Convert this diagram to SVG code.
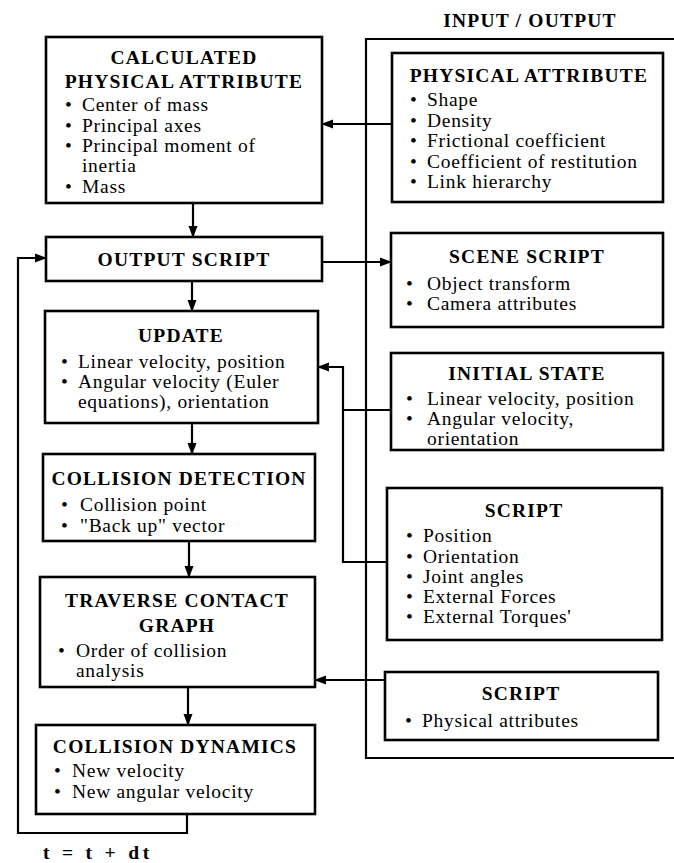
<svg xmlns="http://www.w3.org/2000/svg" width="674" height="863" viewBox="0 0 674 863">
<defs>
<marker id="ah" markerWidth="12" markerHeight="10" refX="11" refY="5" orient="auto" markerUnits="userSpaceOnUse">
<path d="M0,0.5 L12,5 L0,9.5 z" fill="#000"/>
</marker>
<style>
.box{fill:#fff;stroke:#000;stroke-width:2.6}
.t{font-family:"Liberation Serif","Times New Roman",serif;font-size:19.5px;letter-spacing:0.7px;fill:#000}
.h{font-weight:bold;text-anchor:middle;letter-spacing:1.2px}
.c{fill:none;stroke:#000;stroke-width:2.2}
.a{fill:none;stroke:#000;stroke-width:2.2;marker-end:url(#ah)}
</style>
</defs>
<rect width="674" height="863" fill="#fff"/>

<g id="connectors">
<polyline class="c" points="674,39 366,39 366,758 674,758"/>
<line class="a" x1="193" y1="203" x2="193" y2="237"/>
<line class="a" x1="192" y1="281" x2="192" y2="311"/>
<line class="a" x1="192" y1="423" x2="192" y2="454"/>
<line class="a" x1="189" y1="541" x2="189" y2="577"/>
<line class="a" x1="188" y1="687" x2="188" y2="725"/>
<polyline class="a" points="187,814 187,833 18,833 18,258 46,258"/>
<line class="a" x1="392" y1="124" x2="322" y2="124"/>
<line class="a" x1="322" y1="262" x2="391" y2="262"/>
<polyline class="a" points="387,562 343,562 343,367 318,367"/>
<line class="c" x1="391" y1="410" x2="343" y2="410"/>
<line class="a" x1="385" y1="680" x2="315" y2="680"/>
</g>

<g id="io-label"><text class="t h" x="530" y="27">INPUT / OUTPUT</text></g>

<g id="calc">
<rect class="box" x="46" y="37" width="276" height="166"/>
<text class="t h" x="184" y="64">CALCULATED</text>
<text class="t h" x="184" y="88">PHYSICAL ATTRIBUTE</text>
<text class="t" x="65" y="111">•</text><text class="t" x="82" y="111">Center of mass</text>
<text class="t" x="65" y="131.5">•</text><text class="t" x="82" y="131.5">Principal axes</text>
<text class="t" x="65" y="152">•</text><text class="t" x="82" y="152">Principal moment of</text>
<text class="t" x="82" y="172">inertia</text>
<text class="t" x="65" y="193">•</text><text class="t" x="82" y="193">Mass</text>
</g>

<g id="phys">
<rect class="box" x="392" y="53" width="271" height="149"/>
<text class="t h" x="529" y="82">PHYSICAL ATTRIBUTE</text>
<text class="t" x="410" y="106">•</text><text class="t" x="427" y="106">Shape</text>
<text class="t" x="410" y="126.5">•</text><text class="t" x="427" y="126.5">Density</text>
<text class="t" x="410" y="147">•</text><text class="t" x="427" y="147">Frictional coefficient</text>
<text class="t" x="410" y="167.5">•</text><text class="t" x="427" y="167.5">Coefficient of restitution</text>
<text class="t" x="410" y="188">•</text><text class="t" x="427" y="188">Link hierarchy</text>
</g>

<g id="output">
<rect class="box" x="46" y="237" width="276" height="44"/>
<text class="t h" x="184" y="266">OUTPUT SCRIPT</text>
</g>

<g id="scene">
<rect class="box" x="391" y="233" width="272" height="94"/>
<text class="t h" x="527" y="263">SCENE SCRIPT</text>
<text class="t" x="406" y="290">•</text><text class="t" x="427" y="290">Object transform</text>
<text class="t" x="406" y="310">•</text><text class="t" x="427" y="310">Camera attributes</text>
</g>

<g id="update">
<rect class="box" x="45" y="311" width="273" height="112"/>
<text class="t h" x="181" y="342">UPDATE</text>
<text class="t" x="61" y="368">•</text><text class="t" x="78" y="368">Linear velocity, position</text>
<text class="t" x="61" y="388">•</text><text class="t" x="78" y="388">Angular velocity (Euler</text>
<text class="t" x="78" y="408">equations), orientation</text>
</g>

<g id="initial">
<rect class="box" x="391" y="353" width="272" height="97"/>
<text class="t h" x="527" y="380">INITIAL STATE</text>
<text class="t" x="406" y="405">•</text><text class="t" x="427" y="405">Linear velocity, position</text>
<text class="t" x="406" y="425">•</text><text class="t" x="427" y="425">Angular velocity,</text>
<text class="t" x="427" y="445">orientation</text>
</g>

<g id="detect">
<rect class="box" x="43" y="454" width="272" height="87"/>
<text class="t h" x="179" y="485">COLLISION DETECTION</text>
<text class="t" x="61" y="511">•</text><text class="t" x="80" y="511">Collision point</text>
<text class="t" x="61" y="532">•</text><text class="t" x="80" y="532">"Back up" vector</text>
</g>

<g id="script1">
<rect class="box" x="387" y="488" width="275" height="152"/>
<text class="t h" x="524" y="517">SCRIPT</text>
<text class="t" x="406" y="542">•</text><text class="t" x="423" y="542">Position</text>
<text class="t" x="406" y="563">•</text><text class="t" x="423" y="563">Orientation</text>
<text class="t" x="406" y="583">•</text><text class="t" x="423" y="583">Joint angles</text>
<text class="t" x="406" y="603">•</text><text class="t" x="423" y="603">External Forces</text>
<text class="t" x="406" y="623">•</text><text class="t" x="423" y="623">External Torques'</text>
</g>

<g id="traverse">
<rect class="box" x="40" y="577" width="275" height="110"/>
<text class="t h" x="177" y="607">TRAVERSE CONTACT</text>
<text class="t h" x="177" y="632">GRAPH</text>
<text class="t" x="58" y="657">•</text><text class="t" x="76" y="657">Order of collision</text>
<text class="t" x="76" y="677">analysis</text>
</g>

<g id="script2">
<rect class="box" x="385" y="672" width="273" height="68"/>
<text class="t h" x="521" y="700">SCRIPT</text>
<text class="t" x="405" y="727">•</text><text class="t" x="422" y="727">Physical attributes</text>
</g>

<g id="dynamics">
<rect class="box" x="36" y="725" width="279" height="89"/>
<text class="t h" x="175" y="753">COLLISION DYNAMICS</text>
<text class="t" x="54" y="777">•</text><text class="t" x="72" y="777">New velocity</text>
<text class="t" x="54" y="798">•</text><text class="t" x="72" y="798">New angular velocity</text>
</g>

<g id="time"><text class="t" x="43" y="859" font-weight="bold" textLength="107" lengthAdjust="spacing">t = t + dt</text></g>
</svg>
